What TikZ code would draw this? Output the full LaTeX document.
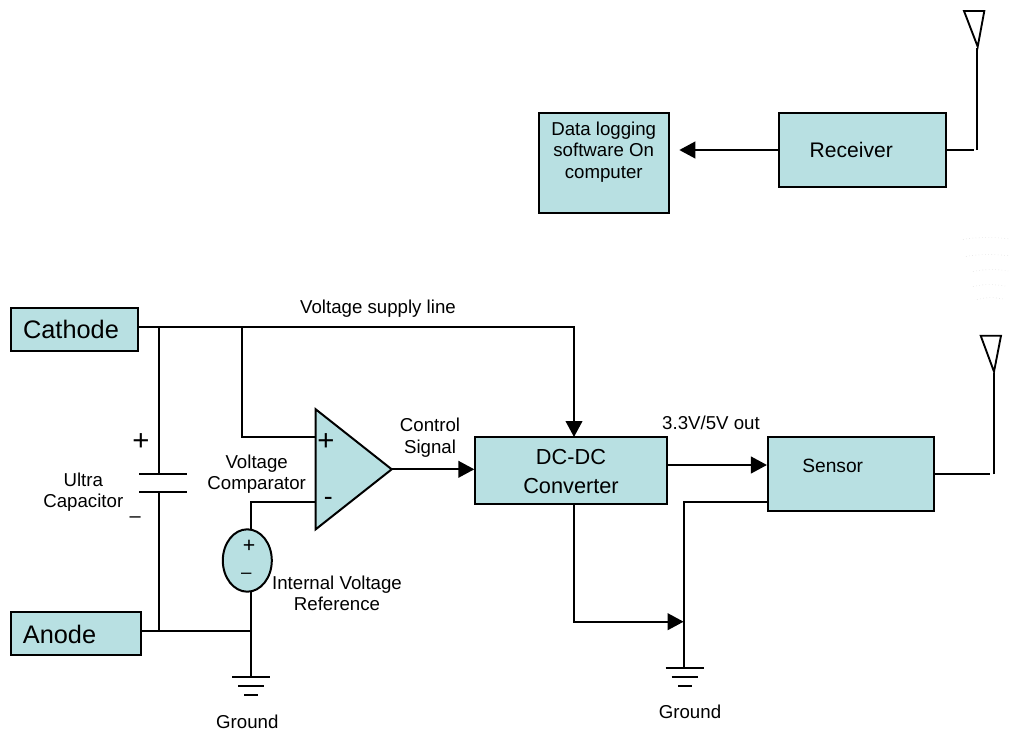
\documentclass[tikz,border=0pt]{standalone}
\usepackage{fontspec}
\setmainfont{Liberation Sans}
\usetikzlibrary{
    arrows.meta,
    shapes.geometric,
    positioning,
    calc
}
\definecolor{boxteal}{RGB}{184,224,226}
\tikzstyle{wire} = [
    line width=1.5pt,
    draw=black
]
\tikzstyle{arrow} = [
    wire,
    -{Triangle[length=12pt,width=12.5pt]}
]
\tikzstyle{bar} = [
    line width=1.4pt,
    draw=black
]
\tikzstyle{block} = [
    rectangle,
    draw=black,
    line width=1.5pt,
    fill=boxteal,
    inner sep=0pt,
    align=center
]
\tikzstyle{label} = [
    font=\fontsize{14}{16}\selectfont,
    align=center,
    inner sep=0pt
]

\begin{document}
\begin{tikzpicture}[x=0.75pt, y=-0.75pt]
    \useasboundingbox (0,0) rectangle (1010,732);

    % Input terminals
    \node[block, minimum width=127.3*0.75pt, minimum height=43*0.75pt] (cathode) at (74.3,329.5) {};
    \node[label, font=\fontsize{19}{21}\selectfont] (cathodetext) at (71,329.5) {Cathode};
    \node[block, minimum width=129.8*0.75pt, minimum height=43*0.75pt] (anode) at (75.6,633.5) {};
    \node[label, font=\fontsize{19}{21}\selectfont] (anodetext) at (59.5,634) {Anode};

    % Junctions
    \coordinate (captop) at (158.7,326.7);
    \coordinate (cmptap) at (241.7,326.7);
    \coordinate (capbot) at (158.7,630.7);
    \coordinate (gndjoin) at (250.7,630.7);

    % Ultra capacitor
    \coordinate (plateup) at (158.7,473.7);
    \coordinate (platedown) at (158.7,492.3);
    \draw[wire] (cathode.east |- captop) -- (cmptap);
    \draw[wire] (captop) -- (plateup);
    \draw[wire] (platedown) -- (capbot);
    \draw[bar] (139.3,473.7) -- (186.7,473.7);
    \draw[bar] (139.3,492.3) -- (186.7,492.3);
    \node[label, font=\fontsize{22}{24}\selectfont] (capplus) at (141,442) {+};
    \node[label, font=\fontsize{15}{17}\selectfont] (capminus) at (135.3,519.5) {--};
    \node[label] (captext) at (83.3,492) {Ultra\\Capacitor};

    % Voltage comparator
    \coordinate (cmpa) at (315.7,409.3);
    \coordinate (cmpb) at (315.7,529.3);
    \coordinate (cmpout) at (391.7,469.3);
    \coordinate (cmpplus) at (315.7,436.7);
    \coordinate (cmpminus) at (315.7,501.7);
    \draw[block] (cmpa) -- (cmpout) -- (cmpb) -- cycle;
    \node[label, font=\fontsize{22}{24}\selectfont] (plussign) at (326,442) {+};
    \node[label, font=\fontsize{20}{22}\selectfont] (minussign) at (328.3,501.5) {-};
    \node[label] (cmptext) at (256.7,474) {Voltage\\Comparator};
    \draw[wire] (cmptap) |- (cmpplus);

    % Internal reference
    \node[ellipse, draw=black, line width=1.5pt, fill=boxteal, inner sep=0pt,
          minimum width=49*0.75pt, minimum height=62.4*0.75pt] (vref) at (247.3,560.5) {};
    \node[label, font=\fontsize{16}{18}\selectfont] (vrefplus) at (249,546.7) {+};
    \node[label] (vrefminus) at (246.3,575.7) {--};
    \node[label] (vreftext) at (337,593.5) {Internal Voltage\\Reference};
    \coordinate (vreftop) at (250.7,529.3);
    \coordinate (vrefbot) at (250.7,591.7);
    \draw[wire] (cmpminus) -| (vreftop);
    \draw[wire] (vrefbot) -- (gndjoin);
    \draw[wire] (anode.east |- gndjoin) -- (gndjoin);

    % Left ground
    \coordinate (gndleft) at (250.7,677);
    \draw[wire] (gndjoin) -- (gndleft);
    \draw[bar] (232,677) -- (270,677);
    \draw[bar] (238,686.3) -- (264,686.3);
    \draw[bar] (244.3,695.3) -- (257.7,695.3);
    \node[label] (gndlefttext) at (247.3,721.7) {Ground};

    % DC-DC converter
    \node[block, minimum width=191.2*0.75pt, minimum height=67.3*0.75pt] (dcdc) at (570.9,470.6) {};
    \node[label, font=\fontsize{16.3}{21.5}\selectfont] (dcdctext) at (571,471.5) {DC-DC\\Converter};
    \node[label] (supplytext) at (378,308.5) {Voltage supply line};
    \node[label] (ctrltext) at (430,437.5) {Control\\Signal};
    \coordinate (dcdcin) at (574,437);
    \draw[arrow] (cmptap) -| (dcdcin);
    \draw[arrow] (cmpout) -- (dcdc.west |- cmpout);

    % Sensor
    \node[block, minimum width=166.5*0.75pt, minimum height=74*0.75pt] (sensor) at (851.2,474) {};
    \node[label, font=\fontsize{14.4}{16}\selectfont] (sensortext) at (832.7,465.7) {Sensor};
    \node[label] (outtext) at (711,422.7) {3.3V/5V out};
    \coordinate (outrow) at (700,465);
    \draw[arrow] (dcdc.east |- outrow) -- (sensor.west |- outrow);

    % Sensor antenna
    \coordinate (sensorstub) at (990,474);
    \coordinate (sensormast) at (994,474.3);
    \coordinate (sensorfeed) at (994,373);
    \draw[wire] (sensor.east |- sensorstub) -- (sensorstub);
    \draw[wire] (sensormast) -- (sensorfeed);
    \draw[bar] (980.7,335.7) -- (1001,335.7) -- (994,371.7) -- cycle;

    % Right ground
    \coordinate (gndtap) at (684.4,501.7);
    \coordinate (gndarrow) at (683.6,621.7);
    \coordinate (gndright) at (684.4,667.7);
    \draw[wire] (sensor.west |- gndtap) -- (gndtap) -- (gndright);
    \draw[arrow] (574,504.3) |- (gndarrow);
    \draw[bar] (665.5,667.7) -- (704,667.7);
    \draw[bar] (671.6,677) -- (698,677);
    \draw[bar] (678,686) -- (691.6,686);
    \node[label] (gndrighttext) at (690,711.7) {Ground};

    % Receiver side
    \node[block, minimum width=166.7*0.75pt, minimum height=74*0.75pt] (receiver) at (862.6,150) {};
    \node[label, font=\fontsize{15.8}{18}\selectfont] (receivertext) at (851.3,149.7) {Receiver};
    \node[block, minimum width=130.3*0.75pt, minimum height=99.7*0.75pt] (logger) at (603.8,162.8) {};
    \node[label, font=\fontsize{14}{16.2}\selectfont] (loggertext) at (603.7,152) {Data logging\\software On\\computer};
    \coordinate (loggerin) at (679.3,150);
    \draw[arrow] (receiver.west) -- (loggerin);

    % Receiver antenna
    \coordinate (receiverstub) at (974,150);
    \coordinate (receivermast) at (977.3,150);
    \coordinate (receiverfeed) at (977.3,48);
    \draw[wire] (receiver.east |- receiverstub) -- (receiverstub);
    \draw[wire] (receivermast) -- (receiverfeed);
    \draw[bar] (964,11) -- (984.3,11) -- (977.7,46.7) -- cycle;

    % Faint marks
    \foreach \ymark/\xa/\xb in {238/963/1010, 255/966/1010, 270/973/1008, 285/973/1005, 298/977/1003}
        \draw[gray!30, line width=0.4pt, dotted] (\xa,\ymark+1.5) .. controls (\xa+12,\ymark-1) and (\xb-12,\ymark-1) .. (\xb,\ymark+1);
\end{tikzpicture}
\end{document}
